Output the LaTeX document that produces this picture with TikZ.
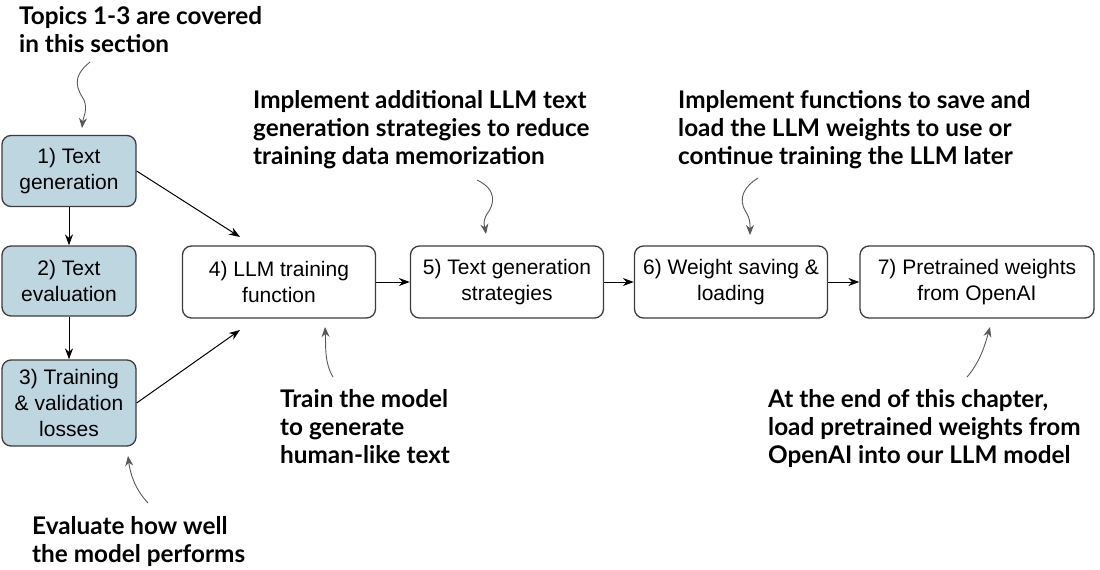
\documentclass[tikz,border=0pt]{standalone}
\usepackage{fontspec}
\setmainfont{Liberation Sans}
\newfontfamily\notefont{Lato}
\usetikzlibrary{positioning,arrows.meta}
\definecolor{topicblue}{RGB}{190,214,224}
\definecolor{edgegray}{RGB}{60,60,60}
\tikzset{
  topic/.style={draw=edgegray, line width=1.3pt, rounded corners=9pt, fill=topicblue,
    minimum width=134pt, minimum height=71pt, align=center, inner sep=2pt,
    font=\fontsize{21}{26}\selectfont},
  stage/.style={topic, fill=white, minimum width=193pt, minimum height=72pt},
  note/.style={font=\notefont\bfseries\fontsize{24.3}{28}\selectfont, align=left,
    anchor=north west, inner sep=0pt},
  flow/.style={-{Stealth[length=11pt,width=8pt]}, line width=1pt},
  callout/.style={-{Stealth[length=10pt,width=8pt]}, line width=0.9pt, draw=black!65}
}
\begin{document}
\begin{tikzpicture}[x=1pt, y=-1pt]
\useasboundingbox (0,0) rectangle (1100,570);

% topics of this section
\node[topic] (t1) at (69,171) {1) Text\\generation};
\node[topic, minimum height=70pt] (t2) at (69,281) {2) Text\\evaluation};
\node[topic, minimum height=86pt] (t3) at (69,403) {3) Training\\\& validation\\losses};

% later stages
\node[stage] (s4) at (279,282) {4) LLM training\\function};
\node[stage] (s5) at (507,282) {5) Text generation\\strategies};
\node[stage] (s6) at (731,282) {6) Weight saving \&\\loading};
\node[stage, minimum width=234pt] (s7) at (977,282) {7) Pretrained weights\\from OpenAI};

\coordinate (in4a) at (240,237);
\coordinate (in4b) at (240,330);

\draw[flow] (t1) -- (t2);
\draw[flow] (t2) -- (t3);
\draw[flow] (t1.east) -- (in4a);
\draw[flow] (t3.east) -- (in4b);
\draw[flow] (s4) -- (s5);
\draw[flow] (s5) -- (s6);
\draw[flow] (s6) -- (s7);

% notes
\node[note] (n1) at (19,6) {Topics 1-3 are covered\\in this section};
\node[note] (n5) at (253,90) {Implement additional LLM text\\generation strategies to reduce\\training data memorization};
\node[note] (n6) at (678,90) {Implement functions to save and\\load the LLM weights to use or\\continue training the LLM later};
\node[note] (n4) at (280,389) {Train the model\\to generate\\human-like text};
\node[note] (n7) at (768,389) {At the end of this chapter,\\load pretrained weights from\\OpenAI into our LLM model};
\node[note] (n3) at (32,516) {Evaluate how well\\the model performs};

\coordinate (c1) at (90,62);   \coordinate (e1) at (82,128);
\coordinate (c5) at (477,180); \coordinate (e5) at (486,234);
\coordinate (c6) at (758,178); \coordinate (e6) at (750,235);
\coordinate (c4) at (333,377); \coordinate (e4) at (325,327);
\coordinate (c7) at (967,377); \coordinate (e7) at (990,327);
\coordinate (c3) at (148,503); \coordinate (e3) at (128,456);

\draw[callout] (c1) .. controls (70,78) and (78,90) .. (84,100) .. controls (88,110) and (83,118) .. (e1);
\draw[callout] (c5) .. controls (498,190) and (494,205) .. (487,214) .. controls (482,222) and (485,228) .. (e5);
\draw[callout] (c6) .. controls (745,186) and (737,198) .. (746,212) .. controls (751,220) and (750,228) .. (e6);
\draw[callout] (c4) .. controls (324,362) and (326,345) .. (e4);
\draw[callout] (c7) .. controls (980,362) and (985,345) .. (e7);
\draw[callout] (c3) .. controls (134,488) and (130,472) .. (e3);
\end{tikzpicture}
\end{document}
